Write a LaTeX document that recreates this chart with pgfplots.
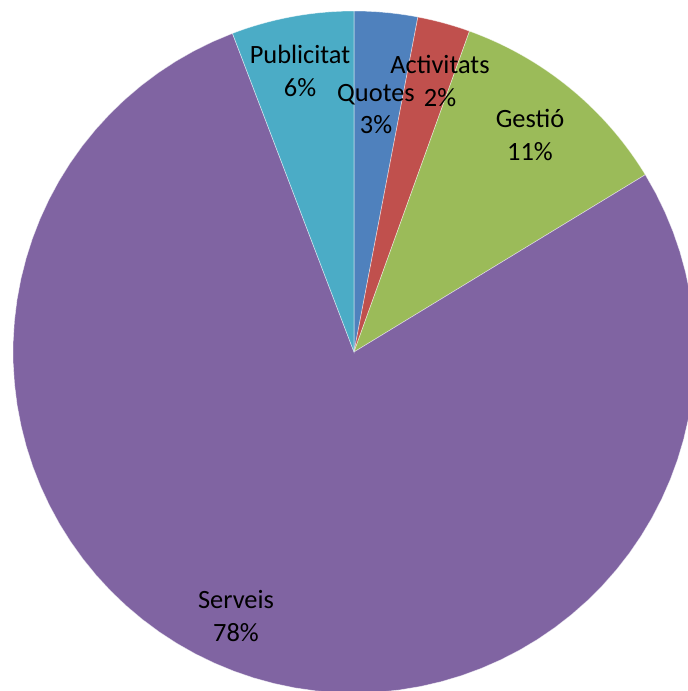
\documentclass[border=0pt]{standalone}
\usepackage{fontspec}
\setmainfont{Carlito}
\usepackage{pgfplots}
\usepackage{pgfplotstable}
\pgfplotsset{compat=1.18}

\definecolor{quotes}{HTML}{4F81BD}
\definecolor{activ}{HTML}{C0504D}
\definecolor{gestio}{HTML}{9BBB59}
\definecolor{serveis}{HTML}{8064A2}
\definecolor{public}{HTML}{4BACC6}

% shares in percent, clockwise from 12 o'clock
\pgfplotstableread{
label      share color
Quotes     3.0   quotes
Activitats 2.5   activ
Gestio     10.8  gestio
Serveis    77.9  serveis
Publicitat 5.8   public
}\piedata

\begin{document}
\begin{tikzpicture}
\fontsize{13.2}{16.3}\selectfont
\begin{axis}[
    scale only axis,
    width=344pt, height=345.5pt,
    xmin=0, xmax=688, ymin=0, ymax=691,
    y dir=reverse,
    hide axis,
    clip=true,
]
\pgfplotstablegetrowsof{\piedata}
\pgfmathtruncatemacro{\last}{\pgfplotsretval-1}
\gdef\cum{0}
\pgfplotsforeachungrouped \i in {0,...,\last}{
    \pgfplotstablegetelem{\i}{share}\of\piedata \let\share\pgfplotsretval
    \pgfplotstablegetelem{\i}{color}\of\piedata \let\col\pgfplotsretval
    \pgfmathsetmacro{\a}{\cum*3.6}
    \pgfmathsetmacro{\b}{(\cum+\share)*3.6}
    \edef\temp{\noexpand\addplot[fill=\col, draw=white, draw opacity=0.55,
        line width=0.3pt, domain=\a:\b, samples=80, variable=\noexpand\t]
        ({354+341*sin(\noexpand\t)}, {352-341*cos(\noexpand\t)})
        -- (axis cs:354,352) -- cycle;}
    \temp
    \pgfmathsetmacro{\cum}{\cum+\share}
    \global\let\cum\cum
}

\node[align=center] at (axis cs:300,71)  {Publicitat\\6\%};
\node[align=center] at (axis cs:376,109) {Quotes\\3\%};
\node[align=center] at (axis cs:440,81)  {Activitats\\2\%};
\node[align=center] at (axis cs:530,135) {Gestió\\11\%};
\node[align=center] at (axis cs:236,616) {Serveis\\78\%};
\end{axis}
\pgfresetboundingbox
\useasboundingbox (current axis.south west) rectangle (current axis.north east);
\end{tikzpicture}
\end{document}
